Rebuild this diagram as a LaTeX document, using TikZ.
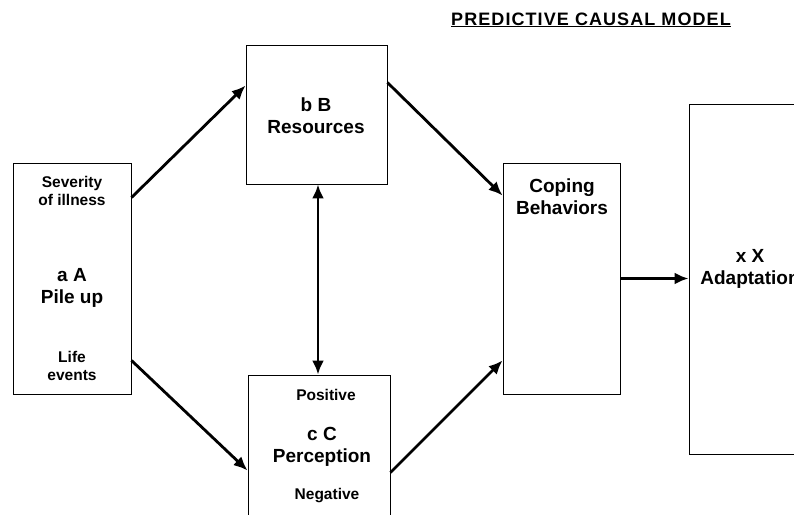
\documentclass[tikz,border=0pt]{standalone}
\usepackage{fontspec}
\setmainfont{Liberation Sans}
\newfontfamily\titlefont[LetterSpace=6]{Liberation Sans}
\usetikzlibrary{arrows.meta}
\tikzset{
	box/.style={draw, line width=0.9pt, inner sep=0pt},
	big/.style={font=\bfseries\fontsize{19}{22}\selectfont, align=center},
	small/.style={font=\bfseries\fontsize{15.5}{17.5}\selectfont, align=center},
	link/.style={line width=2.8pt, >={Latex[length=14pt, width=12pt]}},
}

\begin{document}
\begin{tikzpicture}[x=1pt, y=-1pt]
	\useasboundingbox (0,0) rectangle (794,514);
	\clip (0,0) rectangle (794,514);
	\node[box, minimum width=118pt, minimum height=231pt] (pile) at (72,278.5) {};
	\node[box, minimum width=141pt, minimum height=139pt] (res) at (316.5,114.5) {};
	\node[box, minimum width=142pt, minimum height=160pt] (perc) at (319,455) {};
	\node[box, minimum width=117pt, minimum height=231pt] (cope) at (561.5,278.5) {};
	\node[box, minimum width=120pt, minimum height=350pt] (adapt) at (749,279) {};
	\node[small] (severity) at (72,191) {Severity\\of illness};
	\node[big] (pilelbl) at (72,288) {a A\\Pile up};
	\node[small] (life) at (72,366) {Life\\events};
	\node[big] (reslbl) at (316,116) {b B\\Resources};
	\node[small] (positive) at (326,395) {Positive};
	\node[big] (perclbl) at (322,447) {c C\\Perception};
	\node[small] (negative) at (327,496) {Negative};
	\node[big] (copelbl) at (562,197) {Coping\\Behaviors};
	\node[big] (adaptlbl) at (750,269) {x X\\Adaptation};
	\node[anchor=base, font=\titlefont\bfseries\fontsize{18}{20}\selectfont] (title) at (591,25) {\underline{PREDICTIVE CAUSAL MODEL}};
	\draw[link, ->] ([yshift=-35pt]pile.north east) -- ([yshift=-41pt]res.north west);
	\draw[link, ->] ([yshift=34pt]pile.south east) -- ([yshift=-96pt]perc.north west);
	\draw[link, ->] ([yshift=-38pt]res.north east) -- ([yshift=-33pt]cope.north west);
	\draw[link, ->] ([yshift=-98pt]perc.north east) -- ([yshift=34pt]cope.south west);
	\draw[link, ->] (cope.east) -- (cope.east -| adapt.west);
	\draw[link, <->] ([xshift=1.5pt]res.south) -- ([xshift=1.5pt]res.south |- perc.north);
\end{tikzpicture}
\end{document}
